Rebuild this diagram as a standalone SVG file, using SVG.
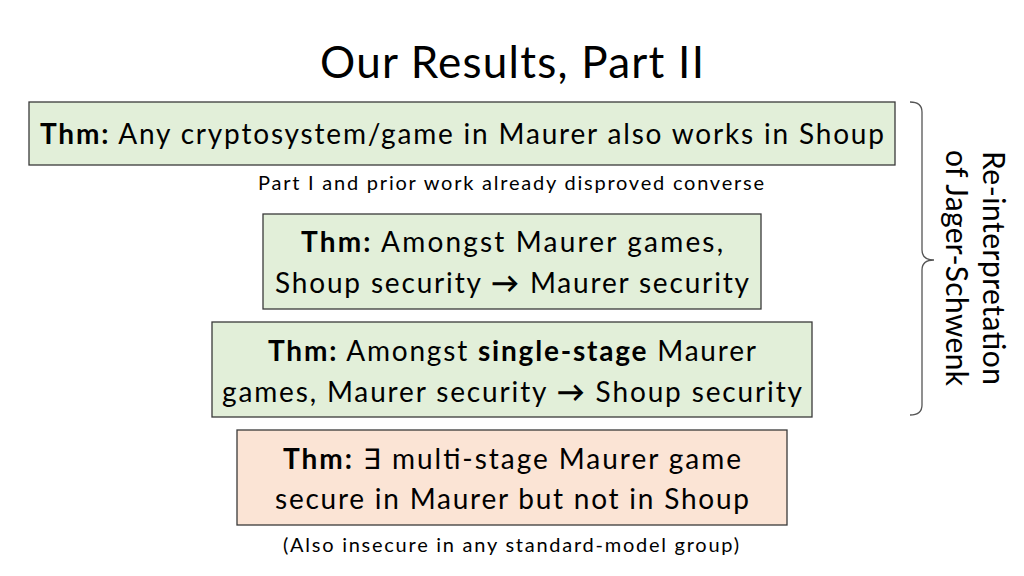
<svg xmlns="http://www.w3.org/2000/svg" width="1024" height="576" viewBox="0 0 1024 576">
<style>
text{font-family:Lato,"Open Sans","Liberation Sans",sans-serif;fill:#000}
.box{stroke:#3a3a3a;stroke-width:1.3}
.g{fill:#e2efd9}.o{fill:#fbe4d5}
.t{font-size:28px}
.s{font-size:20px}
</style>
<rect width="1024" height="576" fill="#fff"/>
<text x="512" y="78" text-anchor="middle" font-size="44" textLength="384">Our Results, Part II</text>
<g id="n1"><rect class="box g" x="29" y="102" width="866" height="63"/>
<text class="t" x="40" y="144" textLength="844"><tspan font-weight="bold">Thm:</tspan> Any cryptosystem/game in Maurer also works in Shoup</text></g>
<text class="s" x="511" y="190" text-anchor="middle" textLength="506">Part I and prior work already disproved converse</text>
<g id="n2"><rect class="box g" x="263" y="214" width="498" height="95"/>
<text class="t" x="512" y="252" text-anchor="middle" textLength="422"><tspan font-weight="bold">Thm:</tspan> Amongst Maurer games,</text>
<text class="t" x="512" y="293" text-anchor="middle" textLength="474">Shoup security <tspan font-weight="bold">→</tspan> Maurer security</text></g>
<g id="n3"><rect class="box g" x="212" y="322" width="600" height="95"/>
<text class="t" x="512" y="361" text-anchor="middle" textLength="488"><tspan font-weight="bold">Thm:</tspan> Amongst <tspan font-weight="bold">single-stage</tspan> Maurer</text>
<text class="t" x="512" y="402" text-anchor="middle" textLength="580">games, Maurer security <tspan font-weight="bold">→</tspan> Shoup security</text></g>
<g id="n4"><rect class="box o" x="237" y="430" width="550" height="95"/>
<text class="t" x="512" y="469" text-anchor="middle" textLength="458"><tspan font-weight="bold">Thm:</tspan> ∃ multi-stage Maurer game</text>
<text class="t" x="512" y="509" text-anchor="middle" textLength="474">secure in Maurer but not in Shoup</text></g>
<text class="s" x="511" y="552" text-anchor="middle" textLength="456">(Also insecure in any standard-model group)</text>
<g id="connectors"><path d="M910 102 Q922 102 922 112 L922 250 Q922 260 934 260 Q922 260 922 270 L922 405 Q922 415 910 415" fill="none" stroke="#555" stroke-width="1.3"/></g>
<text font-size="30" transform="translate(983 268) rotate(90)" text-anchor="middle" textLength="234">Re-interpretation</text>
<text font-size="30" transform="translate(946 268) rotate(90)" text-anchor="middle" textLength="236">of Jager-Schwenk</text>
</svg>
